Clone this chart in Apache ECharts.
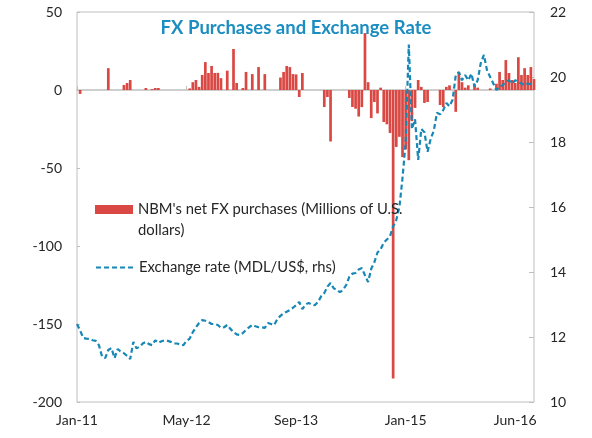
<!DOCTYPE html>
<html lang="en">
<head>
    <meta charset="UTF-8">
    <title>FX Purchases and Exchange Rate</title>
    <script type="text/javascript" src="https://cdn.jsdelivr.net/npm/echarts@6/dist/echarts.min.js"></script>
</head>
<body style="margin:0">
<div id="chart" style="width:592px;height:438px;"></div>
<script type="text/javascript">
    // biweekly observations, Jan-2011 .. Jun-2016
    var tickLabels = ['Jan-11', 'May-12', 'Sep-13', 'Jan-15', 'Jun-16'];
    var tickStep = 35;

    // NBM's net FX purchases, millions of US$
    var fxPurchases = [
        0, -2.5, 0, 0, 0, 0, 0, 0, 0, 0,
        14, 0, 0, 0, 0, 3.2, 4.5, 6.4, 0, 0,
        0, 0, 1.3, 0, 0.6, 1.3, 1.3, 0, 0, 0,
        0, 0, 0, 0, 0, 0, 1, 5, 6.4, 2,
        9.6, 17.9, 10.9, 15.4, 10.9, 11, 7.6, 0, 12.4, 0,
        26.3, 4.5, 0, 1.3, 11.6, 0, 10.2, 0, 14.7, 0,
        10.2, 0, 0, 0, 0, 8, 11.6, 15.4, 14.7, 10.2,
        10, -4.5, 10.9, 0, 0, 0, 0, 0, 0, -10.9,
        -4.5, -33, 0, 0, 0, 0, 0, -5.1, -10.9, -12,
        -17, -11, 36.5, 5, -18, -7.7, -15, 1.5, -20.5, -22,
        -27.6, -185, -36.5, -30, -43, -38, -45, -20, -11.5, 6.4,
        2, -8.3, -7.7, 0, 0, 0, -9.6, -11, 2, 3,
        0, -14, 11.6, 5, 1.5, 3, 0, 4, 1.5, 0,
        0, 0, 1, 0, 4, 11.6, 6.4, 19.2, 10.9, 6.4,
        4.5, 21, 9.6, 14, 9.6, 14.7, 7
    ];

    // MDL per US$
    var exchangeRate = [
        12.4, 12.2, 11.97, 11.95, 11.94, 11.9, 11.88, 11.75, 11.4, 11.35,
        11.6, 11.66, 11.35, 11.63, 11.55, 11.5, 11.42, 11.32, 11.85, 11.65,
        11.7, 11.8, 11.85, 11.78, 11.75, 11.9, 11.82, 11.87, 11.9, 11.88,
        11.85, 11.8, 11.8, 11.76, 11.75, 11.88, 11.95, 12.15, 12.3, 12.43,
        12.52, 12.5, 12.46, 12.4, 12.4, 12.37, 12.28, 12.3, 12.37, 12.25,
        12.15, 12.08, 12.06, 12.12, 12.22, 12.3, 12.37, 12.33, 12.3, 12.3,
        12.28, 12.43, 12.4, 12.37, 12.55, 12.65, 12.73, 12.78, 12.83, 12.9,
        12.98, 13.08, 12.86, 13.0, 13.05, 13.0, 12.98, 13.08, 13.25, 13.35,
        13.55, 13.66, 13.5, 13.45, 13.38, 13.45, 13.6, 13.85, 13.95, 13.97,
        14.08, 14.12, 13.9, 13.69, 14.1, 14.3, 14.6, 14.7, 14.9, 15.0,
        15.1, 15.4, 15.6, 16.0, 16.9, 18.0, 21.0, 18.4, 18.7, 17.45,
        18.4, 18.3, 17.7, 18.1, 18.35, 18.9, 18.85, 18.98, 19.2, 19.1,
        19.3, 20.05, 20.15, 19.9, 20.06, 19.9, 20.1, 19.7, 19.9, 20.43,
        20.68, 20.2, 20.0, 19.8, 19.6, 19.7, 19.75, 19.85, 19.9, 19.8,
        19.9, 19.85, 19.8, 19.75, 19.8, 19.78, 19.75
    ];

    var barName = "NBM's net FX purchases (Millions of U.S.\ndollars)";
    var lineName = 'Exchange rate (MDL/US$, rhs)';

    var months = ['Jan', 'Feb', 'Mar', 'Apr', 'May', 'Jun', 'Jul', 'Aug', 'Sep', 'Oct', 'Nov', 'Dec'];
    var categories = [];
    for (var i = 0; i < fxPurchases.length; i++) {
        var d = new Date(Date.UTC(2011, 0, 3 + 14 * i));
        categories.push(months[d.getUTCMonth()] + '-' + String(d.getUTCFullYear()).slice(2));
    }

    function onTick(idx) {
        return idx % tickStep === 0;
    }

    var font = 'Lato';
    var gray = '#BFBFBF';
    var textColor = '#262626';
    var blue = '#1787B6';

    var myChart = echarts.init(document.getElementById('chart'));
    var option = {
        animation: false,
        backgroundColor: '#ffffff',
        title: {
            text: 'FX Purchases and Exchange Rate',
            left: 'center',
            top: 19,
            padding: 0,
            textStyle: {
                fontFamily: font,
                fontWeight: 'bold',
                fontSize: 18.5,
                color: '#1C8DC0'
            }
        },
        grid: {
            left: 77,
            right: 58,
            top: 12,
            bottom: 36,
            show: true,
            borderColor: gray,
            borderWidth: 1
        },
        legend: [{
            data: [barName],
            left: 95,
            top: 178,
            padding: 0,
            selectedMode: false,
            icon: 'rect',
            itemWidth: 38,
            itemHeight: 9,
            // blank first line keeps the swatch level with the first text line
            formatter: function (name) {
                return '\n' + name;
            },
            textStyle: {
                fontFamily: font,
                fontSize: 14.8,
                lineHeight: 21,
                color: textColor
            }
        }, {
            data: [lineName],
            left: 95,
            top: 257,
            padding: 0,
            selectedMode: false,
            itemWidth: 38,
            itemHeight: 9,
            itemStyle: {opacity: 0},
            textStyle: {
                fontFamily: font,
                fontSize: 14.8,
                lineHeight: 21,
                color: textColor
            }
        }],
        xAxis: [{
            type: 'category',
            data: categories,
            boundaryGap: false,
            position: 'bottom',
            axisLine: {show: false, onZero: false},
            axisTick: {show: false},
            axisLabel: {
                interval: onTick,
                margin: 11,
                fontFamily: font,
                fontSize: 14,
                color: textColor,
                formatter: function (value, idx) {
                    return tickLabels[Math.round(idx / tickStep)];
                }
            },
            splitLine: {show: false}
        }, {
            // zero line with upward ticks
            type: 'category',
            data: categories,
            boundaryGap: false,
            position: 'bottom',
            axisLine: {show: true, onZero: true, onZeroAxisIndex: 0, lineStyle: {color: gray, width: 1.5}},
            axisTick: {show: true, inside: true, length: 4, interval: onTick, lineStyle: {color: gray}},
            axisLabel: {show: false},
            splitLine: {show: false}
        }],
        yAxis: [{
            type: 'value',
            min: -200,
            max: 50,
            interval: 50,
            position: 'left',
            axisLine: {show: false},
            axisTick: {show: true, inside: true, length: 3, lineStyle: {color: gray}},
            axisLabel: {margin: 15, fontFamily: font, fontSize: 14, color: textColor},
            splitLine: {show: false}
        }, {
            type: 'value',
            min: 10,
            max: 22,
            interval: 2,
            position: 'right',
            axisLine: {show: false},
            axisTick: {show: true, inside: true, length: 5, lineStyle: {color: gray}},
            axisLabel: {margin: 16, fontFamily: font, fontSize: 14, color: textColor},
            splitLine: {show: false}
        }],
        series: [{
            name: barName,
            type: 'bar',
            xAxisIndex: 0,
            yAxisIndex: 0,
            data: fxPurchases,
            barWidth: 2.7,
            itemStyle: {color: '#D94843'},
            z: 2
        }, {
            name: lineName,
            type: 'line',
            xAxisIndex: 0,
            yAxisIndex: 1,
            data: exchangeRate,
            symbol: 'none',
            lineStyle: {color: blue, width: 2.2, type: [5, 3]},
            itemStyle: {color: blue},
            z: 3
        }]
    };
    myChart.setOption(option);
</script>
</body>
</html>
